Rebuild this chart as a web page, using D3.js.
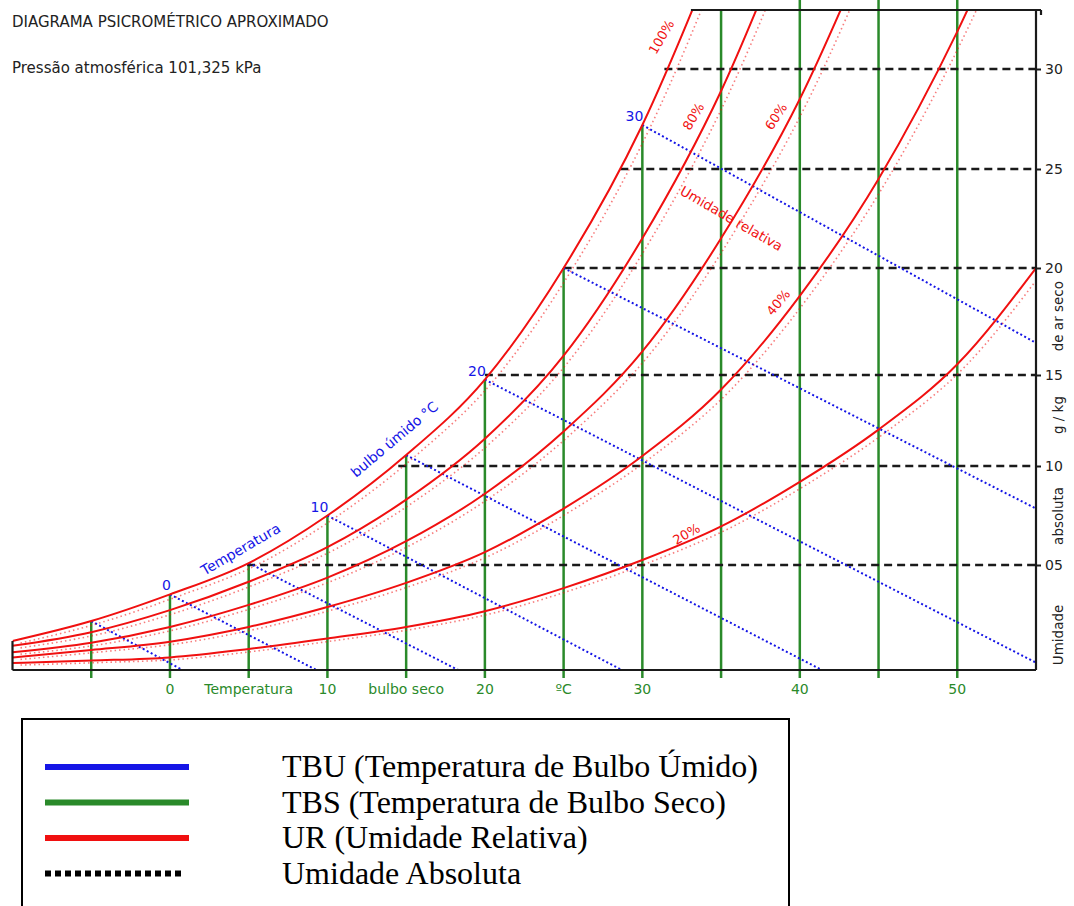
<!DOCTYPE html>
<html>
<head>
<meta charset="utf-8">
<script src="https://cdn.jsdelivr.net/npm/d3@7"></script>
<style>
  html, body { margin: 0; padding: 0; background: #fff; }
  svg { display: block; }
  .chart-text { font-family: "DejaVu Sans", Verdana, sans-serif; }
  .legend-text { font-family: "Liberation Serif", "Times New Roman", serif; }
</style>
</head>
<body>
<svg id="chart" width="1074" height="906"></svg>
<script>
// ---------------- DATA ----------------
const curveTemps = [-10, -5, 0, 5, 10, 15, 20, 25, 30, 35, 40, 45, 50, 55];
// absolute humidity (g/kg dry air) along each relative-humidity curve
const rh100 = [1.38, 2.33, 3.6, 5.1, 7.5, 10.6, 14.75, 20.0, 27.2, 36.6];
const rh80  = [1.15, 1.8, 2.85, 4.2, 5.9, 8.3, 11.5, 15.9, 21.5, 28.9, 38.5];
const rh60  = [0.85, 1.3, 2.05, 3.1, 4.4, 6.2, 8.6, 11.9, 16.1, 21.5, 28.5, 37.5];
const rh40  = [0.6, 0.95, 1.35, 2.05, 3.0, 4.15, 5.65, 7.85, 10.55, 14.2, 18.7, 24.5, 31.9, 41.0];
const rh20  = [0.33, 0.45, 0.6, 1.0, 1.5, 2.05, 2.8, 3.9, 5.25, 6.95, 9.2, 12.0, 15.5, 20.0];
const rhLabels = ["100%", "80%", "60%", "40%", "20%"];

// dry-bulb (vertical green) lines
const dryBulbTemps = [-5, 0, 5, 10, 15, 20, 25, 30, 35, 40, 45, 50];
const bottomLabelTemps = [0, 5, 10, 15, 20, 25, 30, 40, 50];
const bottomLabelTexts = ["0", "Temperatura", "10", "bulbo seco", "20", "ºC", "30", "40", "50"];

// absolute humidity (horizontal dashed) lines
const absHumValues = [5, 10, 15, 20, 25, 30];
const absHumLabels = ["05", "10", "15", "20", "25", "30"];
const absHumStartT = [4.9, 14.5, 20.0, 25.0, 28.6, 31.4];   // where each line leaves the saturation curve

// wet-bulb (blue dotted) lines: start on the saturation curve, end point
const wetBulbTemps = [-5, 0, 5, 10, 15, 20, 25, 30];
const wetBulbEndT  = [0.8, 9.3, 18.3, 28.7, 41.4, 55, 55, 55];
const wetBulbEndW  = [0, 0, 0, 0, 0, 0.35, 7.85, 16.5];
const wetBulbLabelTemps = [0, 10, 20, 30];

// axis domains
const tempDomain = [-10, 55];
const humTicksDomain = [0, 5, 10, 15, 20, 25, 30, 33];

// text annotations (positions in chart units: temperature, g/kg)
const rhLabelT = [31.27, 33.3, 38.55, 38.68, 32.83];
const rhLabelW = [31.6, 27.6, 27.6, 18.36, 6.52];
const rhLabelAngle = [-60, -60, -57, -50, -30];
const rightTitleParts = ["Umidade", "absoluta", "g / kg", "de ar seco"];
const rightTitleW = [1.67, 7.48, 12.8, 17.75];

const titleLines = ["DIAGRAMA PSICROMÉTRICO APROXIMADO", "Pressão atmosférica 101,325 kPa"];
const legendLabels = ["TBU (Temperatura de Bulbo Úmido)", "TBS (Temperatura de Bulbo Seco)", "UR (Umidade Relativa)", "Umidade Absoluta"];

// ---------------- DRAWING ----------------
const RED = "#f01010", GREEN = "#2a8a2a", BLUE = "#1515e6", BLACK = "#1a1a1a";
const svg = d3.select("#chart");

const x = d3.scaleLinear().domain(tempDomain).range([12.5, 1036]);
const y = d3.scaleLinear().domain(humTicksDomain).range([670, 565, 466, 375, 268, 169, 69, 10]);
const Wtop = humTicksDomain[humTicksDomain.length - 1];

svg.append("defs").append("clipPath").attr("id", "plotclip")
  .append("rect").attr("x", x(tempDomain[0])).attr("y", y(Wtop))
  .attr("width", x(tempDomain[1]) - x(tempDomain[0])).attr("height", y(0) - y(Wtop));

const satAt = t => rh100[curveTemps.indexOf(t)];

// T where the saturation curve meets the top border
let topT = tempDomain[1];
for (let i = 1; i < rh100.length; i++) {
  if (rh100[i] >= Wtop) {
    const t0 = curveTemps[i - 1], t1 = curveTemps[i];
    topT = t0 + (t1 - t0) * (Wtop - rh100[i - 1]) / (rh100[i] - rh100[i - 1]);
    break;
  }
}

const plot = svg.append("g");

// dry-bulb green lines
plot.append("g").selectAll("line").data(dryBulbTemps).join("line")
  .attr("x1", d => x(d)).attr("x2", d => x(d))
  .attr("y1", y(0) + 8)
  .attr("y2", d => y(Math.min(satAt(d), Wtop)))
  .attr("stroke", GREEN).attr("stroke-width", 2.5);

// absolute humidity dashed lines
plot.append("g").selectAll("line").data(absHumValues).join("line")
  .attr("x1", (d, i) => x(absHumStartT[i])).attr("x2", x(tempDomain[1]))
  .attr("y1", d => y(d)).attr("y2", d => y(d))
  .attr("stroke", BLACK).attr("stroke-width", 2.4).attr("stroke-dasharray", "8,5");

// wet-bulb blue dotted lines
plot.append("g").attr("clip-path", "url(#plotclip)").selectAll("line").data(wetBulbTemps).join("line")
  .attr("x1", d => x(d)).attr("y1", d => y(satAt(d)))
  .attr("x2", (d, i) => x(wetBulbEndT[i])).attr("y2", (d, i) => y(wetBulbEndW[i]))
  .attr("stroke", BLUE).attr("stroke-width", 2).attr("stroke-dasharray", "2,2.5");

// relative humidity red curves
const rhSeries = [rh100, rh80, rh60, rh40, rh20];
const line = d3.line().x(d => x(d[0])).y(d => y(d[1])).curve(d3.curveMonotoneX);
const curveG = plot.append("g").attr("clip-path", "url(#plotclip)");
rhSeries.forEach((s, k) => {
  const pts = s.map((w, i) => [curveTemps[i], w]);
  // faint scanned "ghost" trace beside each curve
  curveG.append("path").attr("d", line(pts)).attr("fill", "none")
    .attr("stroke", RED).attr("stroke-width", 1.6).attr("stroke-dasharray", "1.5,3")
    .attr("opacity", 0.55).attr("transform", "translate(8,2)");
  curveG.append("path").attr("d", line(pts)).attr("fill", "none")
    .attr("stroke", RED).attr("stroke-width", 2);
});

// frame: bottom, right, left stub, top
const frame = svg.append("g").attr("stroke", BLACK).attr("stroke-width", 2.2).attr("fill", "none");
frame.append("line").attr("x1", x(tempDomain[0])).attr("x2", x(tempDomain[1])).attr("y1", y(0)).attr("y2", y(0));
frame.append("line").attr("x1", x(tempDomain[1])).attr("x2", x(tempDomain[1])).attr("y1", y(Wtop)).attr("y2", y(0));
frame.append("line").attr("x1", x(tempDomain[0])).attr("x2", x(tempDomain[0])).attr("y1", y(rh100[0])).attr("y2", y(0));
frame.append("line").attr("x1", x(topT)).attr("x2", x(tempDomain[1]) + 5).attr("y1", y(Wtop)).attr("y2", y(Wtop));
frame.append("line").attr("x1", x(tempDomain[1]) + 5).attr("x2", x(tempDomain[1]) + 5).attr("y1", y(Wtop)).attr("y2", y(Wtop) + 5);

// right axis ticks + labels
const rightAxis = svg.append("g").attr("transform", `translate(${x(tempDomain[1])},0)`)
  .call(d3.axisRight(y).tickValues(absHumValues).tickSize(5).tickFormat((d, i) => absHumLabels[i]));
rightAxis.select(".domain").remove();
rightAxis.selectAll("line").attr("stroke", BLACK).attr("stroke-width", 2);
rightAxis.selectAll("text").attr("font-size", 14).attr("fill", "#222")
  .attr("x", 9).attr("font-family", "DejaVu Sans, sans-serif");

// right axis title pieces
svg.append("g").selectAll("text").data(rightTitleParts).join("text")
  .attr("class", "chart-text").attr("font-size", 13.5).attr("fill", "#222")
  .attr("text-anchor", "middle")
  .attr("transform", (d, i) => `translate(1063,${y(rightTitleW[i])}) rotate(-90)`)
  .text(d => d);

// bottom green labels
svg.append("g").selectAll("text").data(bottomLabelTemps).join("text")
  .attr("class", "chart-text").attr("font-size", 14).attr("fill", GREEN)
  .attr("text-anchor", "middle").attr("x", d => x(d)).attr("y", y(0) + 24)
  .text((d, i) => bottomLabelTexts[i]);

// wet-bulb number labels
svg.append("g").selectAll("text").data(wetBulbLabelTemps).join("text")
  .attr("class", "chart-text").attr("font-size", 14).attr("fill", BLUE)
  .attr("text-anchor", "end").attr("x", d => x(d) + 1).attr("y", d => y(satAt(d)) - 4)
  .text(d => String(d));

// rotated annotations
function rotLabel(txt, t, w, ang, color, size) {
  svg.append("text").attr("class", "chart-text").attr("font-size", size).attr("fill", color)
    .attr("text-anchor", "middle").attr("dominant-baseline", "middle")
    .attr("transform", `translate(${x(t)},${y(w)}) rotate(${ang})`).text(txt);
}
rhLabels.forEach((l, i) => rotLabel(l, rhLabelT[i], rhLabelW[i], rhLabelAngle[i], RED, 13));
rotLabel("Umidade  relativa", 35.63, 22.47, 30, RED, 13.5);
rotLabel("Temperatura", 4.52, 5.76, -30, BLUE, 14);
rotLabel("bulbo úmido °C", 14.29, 11.43, -40, BLUE, 14);

// titles
svg.append("g").selectAll("text").data(titleLines).join("text")
  .attr("class", "chart-text").attr("fill", "#222").attr("font-size", 15)
  .attr("x", 12).attr("y", (d, i) => i === 0 ? 27 : 73)
  .text(d => d);

// legend
const lg = svg.append("g");
lg.append("rect").attr("x", 22).attr("y", 719).attr("width", 767).attr("height", 200)
  .attr("fill", "none").attr("stroke", "#000").attr("stroke-width", 2);
const legendColors = [BLUE, GREEN, RED, "#000"];
legendLabels.forEach((lab, i) => {
  const yy = 767 + i * 35.5;
  const sw = lg.append("line").attr("x1", 45).attr("y1", yy).attr("y2", yy)
    .attr("stroke", legendColors[i]).attr("stroke-width", 6);
  if (i === 3) sw.attr("x2", 183).attr("stroke-dasharray", "6,4");
  else sw.attr("x2", 189);
  lg.append("text").attr("class", "legend-text").attr("font-size", 32).attr("fill", "#000")
    .attr("x", 282).attr("y", yy + 10).text(lab);
});
</script>
</body>
</html>
